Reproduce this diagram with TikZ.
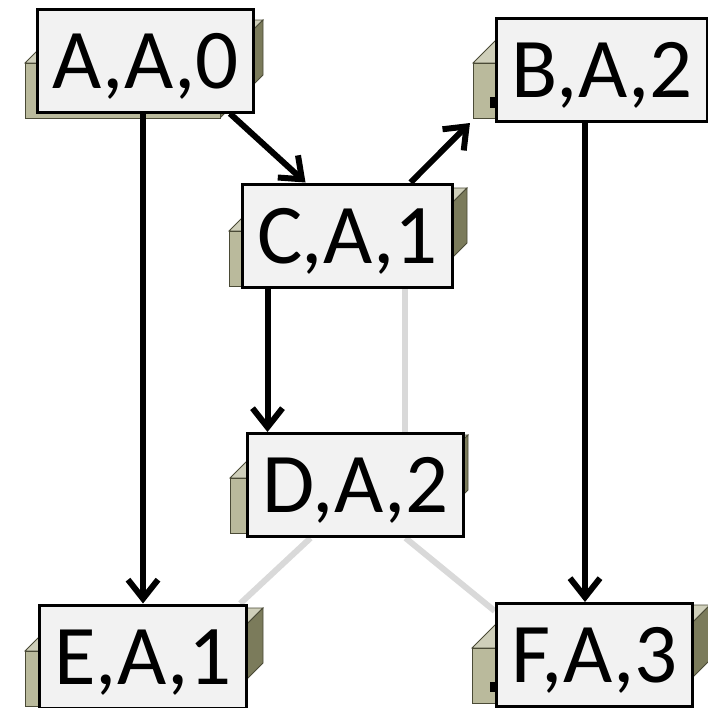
\documentclass[tikz,border=0pt]{standalone}
\usepackage{fontspec}
\setmainfont{Carlito}
\usetikzlibrary{arrows.meta, backgrounds}

\definecolor{cratefront}{HTML}{BABA9C}
\definecolor{cratetop}{HTML}{CFCFBA}
\definecolor{crateside}{HTML}{7B7B5B}
\definecolor{crateline}{HTML}{4A4A36}
\definecolor{labelfill}{HTML}{F2F2F2}
\definecolor{faint}{HTML}{D9D9D9}

\tikzset{
    crate/.pic={
        \filldraw[fill=cratetop, draw=crateline, line width=0.8pt] (0,0) -- (43,-43) -- (238,-43) -- (195,0) -- cycle;
        \filldraw[fill=crateside, draw=crateline, line width=0.8pt] (195,0) -- (238,-43) -- (238,12) -- (195,55) -- cycle;
        \filldraw[fill=cratefront, draw=crateline, line width=0.8pt] (0,0) rectangle (195,55);
    },
    state/.style={rectangle, draw=black, line width=3pt, fill=labelfill, inner xsep=15pt, inner ysep=0pt,
        minimum height=103pt, text height=55pt, text depth=0pt, font=\fontsize{85}{90}\selectfont},
    link/.style={line width=6pt, -{Straight Barb[length=19pt, width=30pt]}},
    ghost/.style={faint, line width=6pt}
}

\begin{document}
\begin{tikzpicture}[x=1pt, y=-1pt]
        \useasboundingbox (0,0) rectangle (708,707);

        \node[state] (a) at (145.5, 60.5) {A,A,0};
        \node[state] (b) at (602, 70) {B,A,2};
        \node[state] (c) at (347.5, 235.5) {C,A,1};
        \node[state] (d) at (355.5, 485) {D,A,2};
        \node[state] (e) at (143, 656.5) {E,A,1};
        \node[state] (f) at (594.5, 655) {F,A,3};

        \begin{scope}[on background layer]
            % faint links first
            \draw[ghost] ([xshift=57pt]c.south) -- ([xshift=57pt]c.south |- d.north);
            \draw[ghost] ([xshift=-45pt]d.south) -- ([xshift=-8pt]e.north east);
            \draw[ghost] ([xshift=50pt]d.south) -- ([yshift=-9pt]f.north west);

            % the crates behind each label
            \pic at (25, 63) {crate};
            \pic at (473, 63) {crate};
            \pic at (229, 231) {crate};
            \pic at (230, 478) {crate};
            \pic at (25, 651) {crate};
            \pic at (472, 648) {crate};
            \fill (490, 97) rectangle (497, 108);
            \fill (490, 682) rectangle (497, 692);
        \end{scope}

        \draw[link] ([xshift=-25pt]a.south east) -- ([xshift=-42pt]c.north);
        \draw[link] ([xshift=63pt]c.north) -- ([xshift=-25pt]b.south west);
        \draw[link] (e.north |- a.south) -- (e.north);
        \draw[link] ([xshift=-17pt]b.south) -- ([xshift=-17pt]b.south |- f.north);
        \draw[link] ([xshift=-80pt]c.south) -- ([xshift=-80pt]c.south |- d.north);
\end{tikzpicture}
\end{document}
